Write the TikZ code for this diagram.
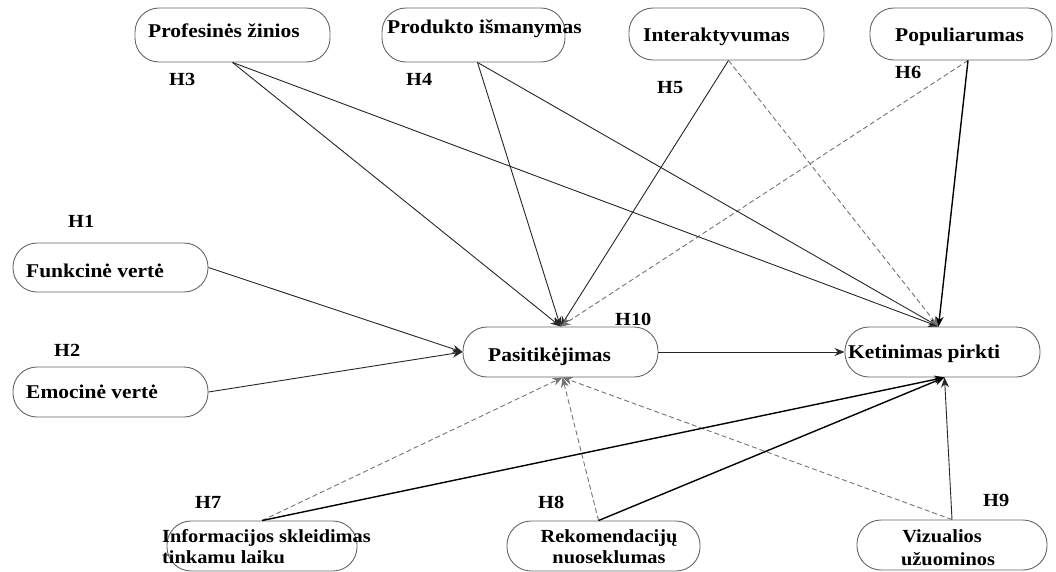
\documentclass[tikz,border=0pt]{standalone}
\usepackage{fontspec}
\setmainfont{Liberation Serif}[FakeStretch=1.1]
\usetikzlibrary{arrows.meta}
\begin{document}
\begin{tikzpicture}[x=1pt,y=-1pt,
  box/.style={draw=black!60, line width=0.9pt, rounded corners=24pt, inner sep=0pt, fill=white},
  txt/.style={anchor=base west, inner sep=0pt, font=\fontsize{19.5}{22}\selectfont\bfseries},
  txts/.style={txt, font=\fontsize{18.5}{22}\selectfont\bfseries},
  hyp/.style={anchor=base west, inner sep=0pt, font=\fontsize{18.5}{22}\selectfont\bfseries},
  sol/.style={draw=black!85, line width=0.9pt, -{Stealth[length=10pt,width=8pt]}},
  solb/.style={draw=black, line width=1.4pt, -{Stealth[length=10pt,width=8pt]}},
  dsh/.style={draw=black!55, line width=0.9pt, dash pattern=on 5pt off 3pt, -{Stealth[length=10pt,width=8pt]}}
]
\useasboundingbox (0,0) rectangle (1056,571);
% boxes
\node[box, minimum width=195pt, minimum height=54pt] (prof) at (232.5,35) {};
\node[box, minimum width=183pt, minimum height=54pt] (prod) at (473.5,35) {};
\node[box, minimum width=195pt, minimum height=52pt] (inter) at (726.5,34) {};
\node[box, minimum width=182pt, minimum height=52pt] (pop) at (961,34) {};
\node[box, minimum width=195pt, minimum height=49pt] (funk) at (110.5,267.5) {};
\node[box, minimum width=195pt, minimum height=50pt] (emo) at (110.5,392) {};
\node[box, minimum width=195pt, minimum height=50pt] (pas) at (560.5,352) {};
\node[box, minimum width=195pt, minimum height=50pt] (ket) at (942.5,352) {};
\node[box, minimum width=190pt, minimum height=50pt] (info) at (262,546) {};
\node[box, minimum width=193pt, minimum height=50pt] (rek) at (603.5,546) {};
\node[box, minimum width=190pt, minimum height=50pt] (viz) at (952,545) {};
% texts
\node[txt] (proft) at (148,37) {Profesinės žinios};
\node[txt] (prodt) at (387,33) {Produkto išmanymas};
\node[txt] (intert) at (643,41) {Interaktyvumas};
\node[txt] (popt) at (895,41) {Populiarumas};
\node[txt] (funkt) at (26,277) {Funkcinė vertė};
\node[txt] (emot) at (26,398) {Emocinė vertė};
\node[txt] (past) at (488,361) {Pasitikėjimas};
\node[txt] (kett) at (848,358) {Ketinimas pirkti};
\node[txts] (infot1) at (162,542) {Informacijos skleidimas};
\node[txts] (infot2) at (162,563) {tinkamu laiku};
\node[txts, anchor=base] (rekt1) at (609,542) {Rekomendacijų};
\node[txts, anchor=base] (rekt2) at (609,563) {nuoseklumas};
\node[txts, anchor=base] (vizt1) at (942,542) {Vizualios};
\node[txts, anchor=base] (vizt2) at (948,565) {užuominos};
% hypothesis labels
\node[hyp] (h1) at (68,227) {H1};
\node[hyp] (h2) at (54,356) {H2};
\node[hyp] (h3) at (169,85) {H3};
\node[hyp] (h4) at (406,85) {H4};
\node[hyp] (h5) at (657,93) {H5};
\node[hyp] (h6) at (895,78) {H6};
\node[hyp] (h7) at (195,508) {H7};
\node[hyp] (h8) at (538,508) {H8};
\node[hyp] (h9) at (983,506) {H9};
\node[hyp] (h10) at (615,325) {H10};
% connectors into Pasitikejimas
\draw[sol] (prof.south) -- (pas.north);
\draw[sol] ([xshift=4pt]prod.south) -- (pas.north);
\draw[sol] ([xshift=2pt]inter.south) -- (pas.north);
\draw[dsh] ([xshift=7pt]pop.south) -- (pas.north);
\draw[sol] (funk.east) -- (pas.west);
\draw[sol] (emo.east) -- (pas.west);
\draw[dsh] (info.north) -- ([xshift=2pt]pas.south);
\draw[dsh] ([xshift=-5pt]rek.north) -- ([xshift=2pt]pas.south);
\draw[dsh] (viz.north) -- ([xshift=2pt]pas.south);
% connectors into Ketinimas pirkti
\draw[sol] (prof.south) -- ([xshift=-4pt]ket.north);
\draw[sol] ([xshift=4pt]prod.south) -- ([xshift=-4pt]ket.north);
\draw[dsh] ([xshift=2pt]inter.south) -- ([xshift=-4pt]ket.north);
\draw[solb] ([xshift=7pt]pop.south) -- ([xshift=-4pt]ket.north);
\draw[sol] (pas.east) -- (ket.west);
\draw[solb] (info.north) -- ([xshift=2pt]ket.south);
\draw[solb] ([xshift=-5pt]rek.north) -- ([xshift=2pt]ket.south);
\draw[sol] (viz.north) -- ([xshift=2pt]ket.south);
\end{tikzpicture}
\end{document}
